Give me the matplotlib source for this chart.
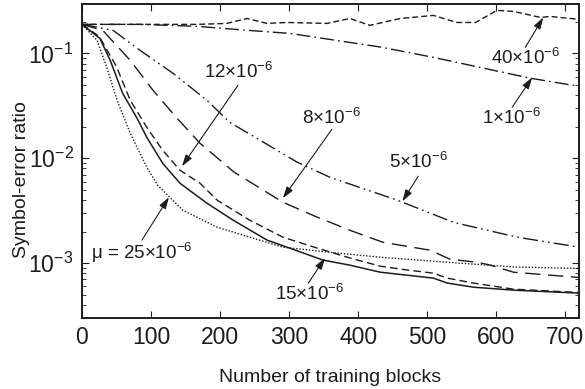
import numpy as np
import matplotlib
matplotlib.use('Agg')
import matplotlib.pyplot as plt

plt.rcParams['font.family'] = 'Liberation Sans'
plt.rcParams['mathtext.fontset'] = 'custom'
plt.rcParams['mathtext.rm'] = 'Liberation Sans'
plt.rcParams['mathtext.it'] = 'Liberation Sans:italic'
plt.rcParams['mathtext.bf'] = 'Liberation Sans:bold'

# symbol-error ratio vs number of training blocks, one curve per step size mu
mu40_x = [0, 84, 167, 210, 239, 268, 297, 355, 388, 417, 461, 509, 543, 570, 601, 625, 664, 678, 720]
mu40_y = [0.189, 0.189, 0.189, 0.193, 0.215, 0.193, 0.197, 0.193, 0.215, 0.185, 0.215,
          0.230, 0.197, 0.197, 0.257, 0.251, 0.220, 0.225, 0.211]

mu1_x = [0, 84, 167, 239, 301, 432, 509, 649, 720]
mu1_y = [0.189, 0.189, 0.181, 0.166, 0.155, 0.115, 0.0916, 0.058, 0.0485]

mu5_x = [0, 45, 84, 132, 181, 214, 312, 359, 457, 538, 630, 720]
mu5_y = [0.189, 0.166, 0.107, 0.0645, 0.0357, 0.022, 0.00916, 0.00659, 0.00398, 0.00245, 0.00177, 0.00142]

mu8_x = [0, 30, 70, 103, 138, 171, 220, 291, 341, 388, 436, 504, 533, 572, 591, 625, 720]
mu8_y = [0.189, 0.166, 0.0858, 0.0444, 0.024, 0.0139, 0.0074, 0.00381, 0.00274, 0.00206,
         0.00158, 0.00133, 0.00109, 0.00102, 0.00096, 0.00082, 0.00073]

mu12_x = [0, 25, 50, 70, 94, 117, 142, 171, 196, 243, 291, 341, 388, 432, 471, 509, 529, 567, 625, 720]
mu12_y = [0.189, 0.145, 0.075, 0.0357, 0.0197, 0.0119, 0.00769, 0.00578, 0.00398, 0.00257,
          0.00177, 0.00139, 0.00112, 0.000936, 0.00086, 0.000803, 0.00072, 0.000646, 0.000565, 0.000525]

mu15_x = [0, 26, 41, 59, 80, 94, 117, 142, 181, 219, 268, 301, 349, 388, 432, 509, 529, 567, 625, 720]
mu15_y = [0.189, 0.139, 0.0858, 0.0416, 0.024, 0.0158, 0.00896, 0.00578, 0.00373, 0.00257,
          0.00166, 0.00139, 0.00107, 0.000957, 0.00082, 0.00072, 0.000646, 0.00059, 0.000553, 0.000518]

mu25_x = [0, 22, 36, 51, 70, 94, 110, 128, 146, 196, 243, 291, 374, 432, 529, 625, 720]
mu25_y = [0.189, 0.133, 0.0736, 0.0357, 0.0173, 0.0082, 0.0055, 0.0042, 0.0032, 0.0022,
          0.00177, 0.00142, 0.00124, 0.00114, 0.00102, 0.00092, 0.00089]

c = '#1c1c1c'
fig = plt.figure(figsize=(5.85, 3.89), dpi=100)
ax = fig.add_axes([0.140, 0.1825, 0.850, 0.807])

ax.plot(mu40_x, mu40_y, color=c, lw=1.0, dashes=(4.3, 2.2))
ax.plot(mu1_x, mu1_y, color=c, lw=1.0, dashes=(10, 3, 1.2, 3))
ax.plot(mu5_x, mu5_y, color=c, lw=1.0, dashes=(11, 3, 1.2, 3, 1.2, 3))
ax.plot(mu8_x, mu8_y, color=c, lw=1.0, dashes=(11, 5.5))
ax.plot(mu12_x, mu12_y, color=c, lw=1.0, dashes=(5.5, 3))
ax.plot(mu15_x, mu15_y, color=c, lw=1.1)
ax.plot(mu25_x, mu25_y, color=c, lw=1.0, dashes=(1, 1.3))

ax.set_yscale('log')
ax.set_xlim(0, 720)
ax.set_ylim(3e-4, 0.295)
ax.set_xticks([0, 100, 200, 300, 400, 500, 600, 700])
ax.tick_params(which='both', direction='in', top=True, right=True, labelsize=16.5, colors=c)
ax.tick_params(which='major', length=5, width=0.8, pad=6)
ax.tick_params(which='minor', length=3, width=0.6)
for s in ax.spines.values():
    s.set_linewidth(1.4)
    s.set_color(c)

ax.set_xlabel('Number of training blocks', fontsize=14, color=c, labelpad=14)
ax.set_ylabel('Symbol-error ratio', fontsize=14, color=c)
ax.yaxis.set_label_coords(-0.105, 0.44)

arrow = dict(arrowstyle='-|>,head_length=0.7,head_width=0.22', color=c, lw=0.8,
             mutation_scale=10, shrinkA=0, shrinkB=0)
fs = 13.5
# (label, text position, arrow tail, arrow tip)
notes = [
    ('12×10$^{-6}$', (227, 0.0659), (226, 0.0496), (145, 0.0084)),
    ('8×10$^{-6}$', (361, 0.024), (362, 0.0189), (291, 0.00416)),
    ('5×10$^{-6}$', (487, 0.00916), (487, 0.00674), (464, 0.00389)),
    ('40×10$^{-6}$', (642, 0.0896), (642, 0.114), (668, 0.220)),
    ('1×10$^{-6}$', (622, 0.024), (623, 0.0306), (652, 0.059)),
    ('μ = 25×10$^{-6}$', (87, 0.00124), (87, 0.00166), (126, 0.00425)),
    ('15×10$^{-6}$', (330, 0.000507), (328, 0.000646), (352, 0.00112)),
]
for label, pos, tail, tip in notes:
    ax.annotate('', xy=tip, xytext=tail, arrowprops=arrow)
    ax.text(pos[0], pos[1], label, fontsize=fs, color=c, ha='center', va='center')

fig.savefig('out.png', dpi=100)
